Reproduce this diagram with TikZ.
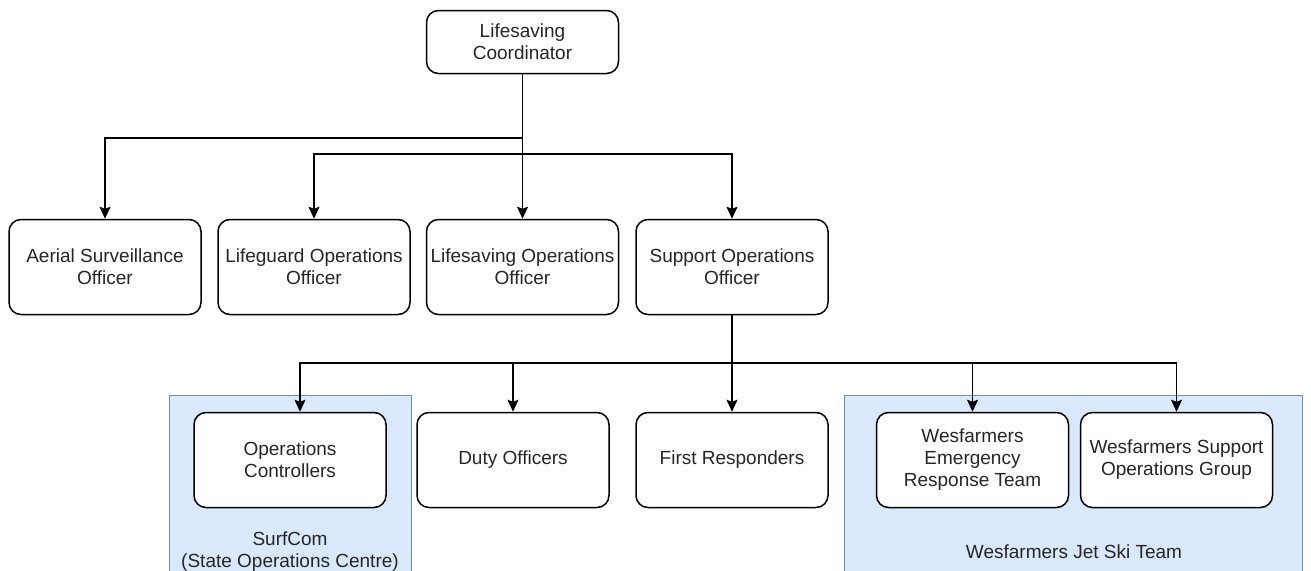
\documentclass[tikz,border=0pt]{standalone}
\usepackage{fontspec}
\setmainfont{Liberation Sans}
\usetikzlibrary{arrows.meta}
\definecolor{grpfill}{HTML}{DAE8FC}
\definecolor{grpline}{HTML}{6C8EBF}
\begin{document}
\begin{tikzpicture}[x=1pt,y=-1pt,
    box/.style={draw,rounded corners=12pt,fill=white,line width=1.5pt,
      minimum width=192pt,minimum height=95pt,inner sep=2pt,align=center,
      text=black!85,font=\fontsize{19}{22}\selectfont},
    lbl/.style={align=center,text=black!85,font=\fontsize{19}{22}\selectfont},
    group/.style={draw=grpline,fill=grpfill,line width=1pt},
    arr/.style={-{Stealth[length=12pt,width=11pt,inset=2pt]},line width=1.5pt}]
  \useasboundingbox (0,0) rectangle (1311,570);
  % groups
  \draw[group] (169,395) rectangle (411,610);
  \draw[group] (844,395) rectangle (1302,610);
  \node[lbl] (surfcom) at (290,552) {SurfCom\\(State Operations Centre)};
  \node[lbl] (jetski) at (1074,552) {Wesfarmers Jet Ski Team};
  % boxes
  \node[box,minimum height=63pt] (coord) at (522.5,42) {Lifesaving\\Coordinator};
  \node[box] (aerial) at (105,267) {Aerial Surveillance\\Officer};
  \node[box] (lgo) at (314,267) {Lifeguard Operations\\Officer};
  \node[box] (lso) at (522.5,267) {Lifesaving Operations\\Officer};
  \node[box] (soo) at (732,267) {Support Operations\\Officer};
  \node[box] (opc) at (290,460) {Operations\\Controllers};
  \node[box] (duty) at (513,460) {Duty Officers};
  \node[box] (fr) at (732,460) {First Responders};
  \node[box] (wert) at (972.5,460) {Wesfarmers\\Emergency\\Response Team};
  \node[box] (wsog) at (1176.5,460) {Wesfarmers Support\\Operations Group};
  % junctions
  \coordinate (j1) at (coord.south |- 0,138);
  \coordinate (j2) at (coord.south |- 0,154);
  \coordinate (j3) at (soo.south |- 0,363);
  \begin{scope}[arr]
    \draw (coord) -- (lso);
    \draw (j1) -| (aerial);
    \draw (j2) -| (lgo);
    \draw (j2) -| (soo);
    \draw (soo) -- (fr);
    \draw (j3) -| ([xshift=10pt]opc.north);
    \draw (j3) -| (duty);
    \draw (j3) -| (wert);
    \draw (j3) -| (wsog);
  \end{scope}
\end{tikzpicture}
\end{document}
